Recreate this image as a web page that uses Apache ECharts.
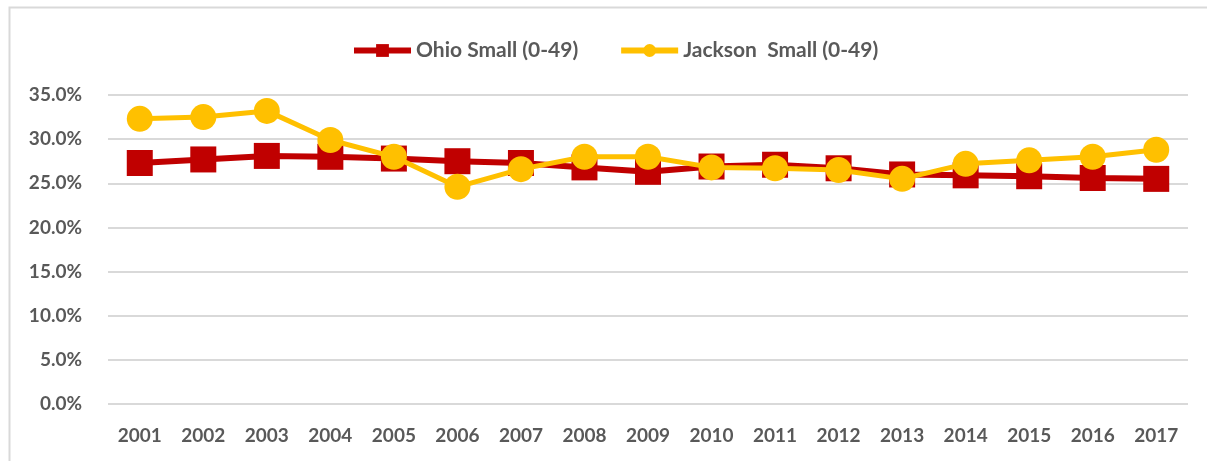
<!DOCTYPE html>
<html>
<head>
<meta charset="utf-8">
<script src="https://cdn.jsdelivr.net/npm/echarts@6/dist/echarts.min.js"></script>
<style>
  html, body { margin: 0; padding: 0; background: #fff; }
  #chart { width: 1207px; height: 461px; }
</style>
</head>
<body>
<div id="chart"></div>
<script>
// 数据
var years = ['2001', '2002', '2003', '2004', '2005', '2006', '2007', '2008', '2009',
             '2010', '2011', '2012', '2013', '2014', '2015', '2016', '2017'];
var ohioSmall = [27.3, 27.7, 28.1, 28.0, 27.8, 27.5, 27.3, 26.8, 26.3,
                 26.9, 27.1, 26.7, 26.0, 25.9, 25.8, 25.6, 25.5];
var jacksonSmall = [32.3, 32.5, 33.2, 29.9, 28.0, 24.6, 26.6, 28.0, 28.0,
                    26.8, 26.7, 26.5, 25.5, 27.2, 27.6, 28.0, 28.8];
var seriesNames = ['Ohio Small (0-49)', 'Jackson  Small (0-49)'];

var chart = echarts.init(document.getElementById('chart'));

var labelFont = {
    color: '#595959',
    fontFamily: 'Lato, "Liberation Sans", sans-serif',
    fontWeight: 'bold',
    fontSize: 19
};

var option = {
    backgroundColor: '#fff',
    animation: false,
    graphic: [{
        type: 'rect',
        left: 7,
        top: 5,
        shape: { width: 1220, height: 480 },
        style: { fill: 'none', stroke: '#d9d9d9', lineWidth: 2 }
    }],
    legend: {
        data: seriesNames,
        left: 346,
        top: 35,
        itemWidth: 57,
        itemHeight: 16,
        itemGap: 40,
        lineStyle: { width: 6 },
        textStyle: Object.assign({}, labelFont, { fontSize: 21 })
    },
    grid: {
        left: 108,
        right: 19,
        top: 95,
        bottom: 57,
        containLabel: false
    },
    xAxis: {
        type: 'category',
        data: years,
        boundaryGap: true,
        axisLine: { show: false },
        axisTick: { show: false },
        axisLabel: Object.assign({ margin: 22 }, labelFont)
    },
    yAxis: {
        type: 'value',
        min: 0,
        max: 35,
        interval: 5,
        axisLine: { show: false },
        axisTick: { show: false },
        splitLine: { lineStyle: { color: '#d9d9d9', width: 2 } },
        axisLabel: Object.assign({
            margin: 26,
            formatter: function (v) { return v.toFixed(1) + '%'; }
        }, labelFont)
    },
    series: [
        {
            name: seriesNames[0],
            type: 'line',
            data: ohioSmall,
            symbol: 'rect',
            symbolSize: 26,
            itemStyle: { color: '#c00000' },
            lineStyle: { color: '#c00000', width: 6 },
            z: 2
        },
        {
            name: seriesNames[1],
            type: 'line',
            data: jacksonSmall,
            symbol: 'circle',
            symbolSize: 26,
            itemStyle: { color: '#ffc000' },
            lineStyle: { color: '#ffc000', width: 5 },
            z: 3
        }
    ]
};

chart.setOption(option);
</script>
</body>
</html>
